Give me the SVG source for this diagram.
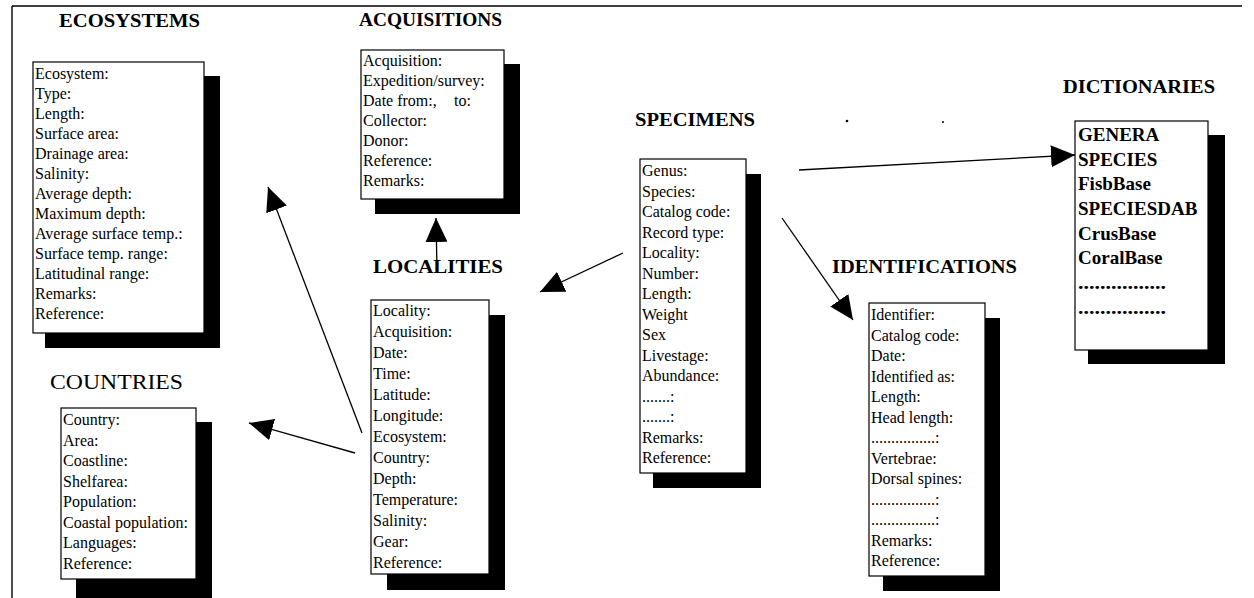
<svg xmlns="http://www.w3.org/2000/svg" width="1254" height="598" viewBox="0 0 1254 598">
<style>
  .bg{fill:#fff}
  .box{fill:#fff;stroke:#000;stroke-width:1.2}
  .sh{fill:#000}
  .t{font-family:"Liberation Serif","Times New Roman",serif;font-size:16px;fill:#000}
  .d{font-family:"Liberation Serif","Times New Roman",serif;font-size:19px;font-weight:bold;fill:#000}
  .h{font-family:"Liberation Serif","Times New Roman",serif;font-size:19.5px;font-weight:bold;fill:#000}
  .hn{font-family:"Liberation Serif","Times New Roman",serif;font-size:21px;fill:#000}
  .c{stroke:#000;stroke-width:1.3;fill:none;marker-end:url(#ah)}
  .fr{stroke:#000;stroke-width:1.4;fill:none}
</style>
<defs>
  <marker id="ah" markerUnits="userSpaceOnUse" markerWidth="24" markerHeight="22" refX="24" refY="11" orient="auto">
    <path d="M0,0 L24,11 L0,22 z" fill="#000"/>
  </marker>
</defs>
<rect class="bg" x="0" y="0" width="1254" height="598"/>
<g id="frame">
  <line class="fr" x1="12" y1="6" x2="1242" y2="6"/>
  <line class="fr" x1="12" y1="6" x2="12" y2="598"/>
  <circle cx="847" cy="121" r="1.3" fill="#000"/>
  <circle cx="943" cy="122" r="1" fill="#000"/>
</g>
<g id="connectors">
  <line class="c" x1="799" y1="170" x2="1075" y2="155"/>
  <line class="c" x1="782" y1="218" x2="853" y2="320"/>
  <line class="c" x1="623" y1="253" x2="540" y2="292"/>
  <line class="c" x1="437" y1="270" x2="436" y2="218"/>
  <line class="c" x1="362" y1="433" x2="268" y2="187"/>
  <line class="c" x1="355" y1="453" x2="249" y2="423"/>
</g>
<g id="ecosystems">
  <text class="h" x="59" y="27" textLength="141" lengthAdjust="spacingAndGlyphs">ECOSYSTEMS</text>
  <rect class="sh" x="45" y="76" width="175" height="272"/>
  <rect class="box" x="33" y="62" width="171" height="271"/>
  <text class="t" x="35" y="79">
    <tspan x="35" y="79">Ecosystem:</tspan>
    <tspan x="35" y="99">Type:</tspan>
    <tspan x="35" y="119">Length:</tspan>
    <tspan x="35" y="139">Surface area:</tspan>
    <tspan x="35" y="159">Drainage area:</tspan>
    <tspan x="35" y="179">Salinity:</tspan>
    <tspan x="35" y="199">Average depth:</tspan>
    <tspan x="35" y="219">Maximum depth:</tspan>
    <tspan x="35" y="239">Average surface temp.:</tspan>
    <tspan x="35" y="259">Surface temp. range:</tspan>
    <tspan x="35" y="279">Latitudinal range:</tspan>
    <tspan x="35" y="299">Remarks:</tspan>
    <tspan x="35" y="319">Reference:</tspan>
  </text>
</g>
<g id="acquisitions">
  <text class="h" x="359" y="26" textLength="143" lengthAdjust="spacingAndGlyphs">ACQUISITIONS</text>
  <rect class="sh" x="375" y="64" width="145" height="150"/>
  <rect class="box" x="361" y="50" width="143" height="149"/>
  <text class="t">
    <tspan x="363" y="66">Acquisition:</tspan>
    <tspan x="363" y="86">Expedition/survey:</tspan>
    <tspan x="363" y="106">Date from:,</tspan><tspan x="454" y="106">to:</tspan>
    <tspan x="363" y="126">Collector:</tspan>
    <tspan x="363" y="146">Donor:</tspan>
    <tspan x="363" y="166">Reference:</tspan>
    <tspan x="363" y="186">Remarks:</tspan>
  </text>
</g>
<g id="specimens">
  <text class="h" x="635" y="126" textLength="120" lengthAdjust="spacingAndGlyphs">SPECIMENS</text>
  <rect class="sh" x="653" y="174" width="108" height="314"/>
  <rect class="box" x="640" y="159" width="106" height="314"/>
  <text class="t">
    <tspan x="642" y="176">Genus:</tspan>
    <tspan x="642" y="196.5">Species:</tspan>
    <tspan x="642" y="217">Catalog code:</tspan>
    <tspan x="642" y="237.5">Record type:</tspan>
    <tspan x="642" y="258">Locality:</tspan>
    <tspan x="642" y="278.5">Number:</tspan>
    <tspan x="642" y="299">Length:</tspan>
    <tspan x="642" y="319.5">Weight</tspan>
    <tspan x="642" y="340">Sex</tspan>
    <tspan x="642" y="360.5">Livestage:</tspan>
    <tspan x="642" y="381">Abundance:</tspan>
    <tspan x="642" y="401.5">.......:</tspan>
    <tspan x="642" y="422">.......:</tspan>
    <tspan x="642" y="442.5">Remarks:</tspan>
    <tspan x="642" y="463">Reference:</tspan>
  </text>
</g>
<g id="localities">
  <text class="h" x="373" y="273" textLength="130" lengthAdjust="spacingAndGlyphs">LOCALITIES</text>
  <rect class="sh" x="387" y="315" width="118" height="275"/>
  <rect class="box" x="371" y="300" width="118" height="274"/>
  <text class="t">
    <tspan x="373" y="316">Locality:</tspan>
    <tspan x="373" y="337">Acquisition:</tspan>
    <tspan x="373" y="358">Date:</tspan>
    <tspan x="373" y="379">Time:</tspan>
    <tspan x="373" y="400">Latitude:</tspan>
    <tspan x="373" y="421">Longitude:</tspan>
    <tspan x="373" y="442">Ecosystem:</tspan>
    <tspan x="373" y="463">Country:</tspan>
    <tspan x="373" y="484">Depth:</tspan>
    <tspan x="373" y="505">Temperature:</tspan>
    <tspan x="373" y="526">Salinity:</tspan>
    <tspan x="373" y="547">Gear:</tspan>
    <tspan x="373" y="568">Reference:</tspan>
  </text>
</g>
<g id="countries">
  <text class="hn" x="50" y="389" textLength="133" lengthAdjust="spacingAndGlyphs">COUNTRIES</text>
  <rect class="sh" x="76" y="422" width="136" height="176"/>
  <rect class="box" x="61" y="408" width="135" height="171"/>
  <text class="t">
    <tspan x="63" y="425">Country:</tspan>
    <tspan x="63" y="445.5">Area:</tspan>
    <tspan x="63" y="466">Coastline:</tspan>
    <tspan x="63" y="486.5">Shelfarea:</tspan>
    <tspan x="63" y="507">Population:</tspan>
    <tspan x="63" y="527.5">Coastal population:</tspan>
    <tspan x="63" y="548">Languages:</tspan>
    <tspan x="63" y="568.5">Reference:</tspan>
  </text>
</g>
<g id="identifications">
  <text class="h" x="832" y="273" textLength="185" lengthAdjust="spacingAndGlyphs">IDENTIFICATIONS</text>
  <rect class="sh" x="883" y="318" width="117" height="273"/>
  <rect class="box" x="869" y="303" width="116" height="273"/>
  <text class="t">
    <tspan x="871" y="320">Identifier:</tspan>
    <tspan x="871" y="340.5">Catalog code:</tspan>
    <tspan x="871" y="361">Date:</tspan>
    <tspan x="871" y="381.5">Identified as:</tspan>
    <tspan x="871" y="402">Length:</tspan>
    <tspan x="871" y="422.5">Head length:</tspan>
    <tspan x="871" y="443">................:</tspan>
    <tspan x="871" y="463.5">Vertebrae:</tspan>
    <tspan x="871" y="484">Dorsal spines:</tspan>
    <tspan x="871" y="504.5">................:</tspan>
    <tspan x="871" y="525">................:</tspan>
    <tspan x="871" y="545.5">Remarks:</tspan>
    <tspan x="871" y="566">Reference:</tspan>
  </text>
</g>
<g id="dictionaries">
  <text class="h" x="1063" y="93" textLength="152" lengthAdjust="spacingAndGlyphs">DICTIONARIES</text>
  <rect class="sh" x="1088" y="135" width="137" height="229"/>
  <rect class="box" x="1075" y="121" width="133" height="229"/>
  <text class="d">
    <tspan x="1078" y="141">GENERA</tspan>
    <tspan x="1078" y="166">SPECIES</tspan>
    <tspan x="1078" y="190">FisbBase</tspan>
    <tspan x="1078" y="215">SPECIESDAB</tspan>
    <tspan x="1078" y="240">CrusBase</tspan>
    <tspan x="1078" y="264">CoralBase</tspan>
  </text>
  <text class="d" x="1078" y="289" textLength="88" lengthAdjust="spacingAndGlyphs">................</text>
  <text class="d" x="1078" y="314" textLength="88" lengthAdjust="spacingAndGlyphs">................</text>
</g>
</svg>
